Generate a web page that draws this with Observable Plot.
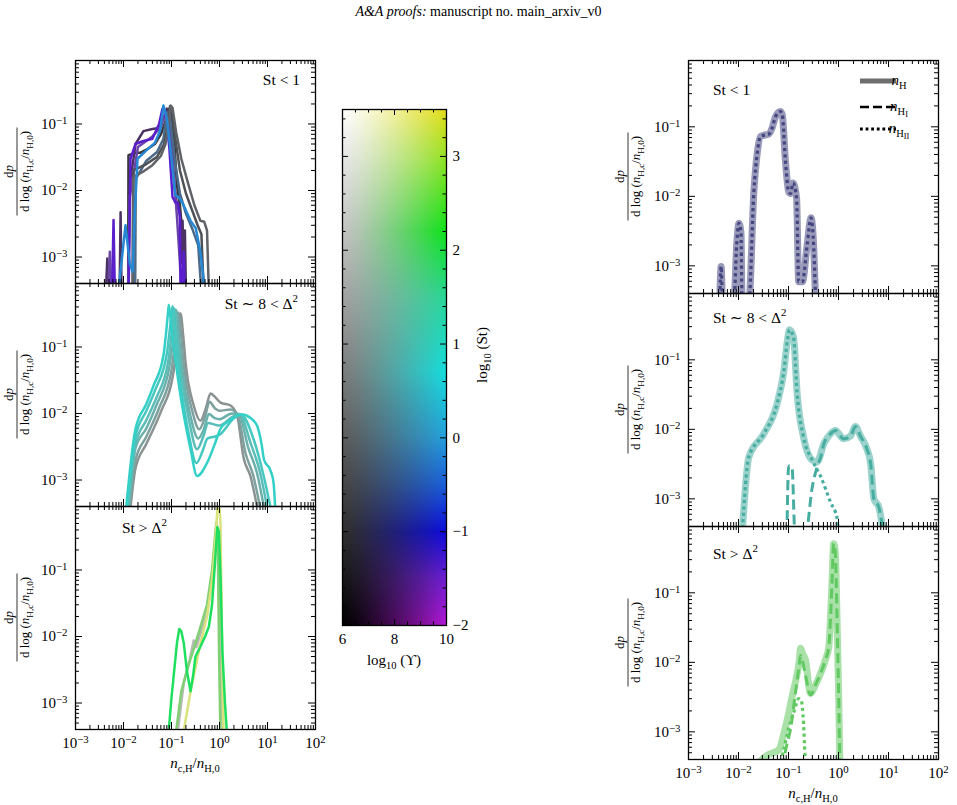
<!DOCTYPE html>
<html>
<head>
<meta charset="utf-8">
<script src="https://cdn.jsdelivr.net/npm/d3@7"></script>
<script src="https://cdn.jsdelivr.net/npm/@observablehq/plot@0.6"></script>
<style>
  body { margin: 0; background: #fff; }
  #fig { position: relative; width: 957px; height: 805px; overflow: hidden; }
  #fig > svg, #fig > div { position: absolute; }
</style>
</head>
<body>
<div id="fig"></div>
<script>
// ---------- Data: PDFs of the cloud hydrogen density, dp / dlog(n_H,c / n_H,0) ----------

// St < 1 runs (left column, top)
const stLowX = [
  [0.0125, 0.0127, 0.018, 0.0226, 0.03, 0.045, 0.06, 0.075, 0.09, 0.1, 0.115, 0.13, 0.15, 0.175, 0.195],
  [0.0043, 0.0046, 0.0049, 0.0083, 0.0087, 0.0091, 0.0125, 0.0135, 0.0178, 0.026, 0.04, 0.055, 0.068, 0.08, 0.09, 0.1, 0.115, 0.13, 0.15, 0.16, 0.17, 0.18, 0.19, 0.2],
  [0.0048, 0.0052, 0.0056, 0.0125, 0.0135, 0.02, 0.04, 0.06, 0.075, 0.09, 0.11, 0.13, 0.15, 0.16],
  [0.0058, 0.0062, 0.0066, 0.0128, 0.014, 0.0178, 0.025, 0.04, 0.055, 0.065, 0.075, 0.09, 0.105, 0.12, 0.135, 0.15, 0.155, 0.165, 0.18, 0.19],
  [0.0175, 0.018, 0.03, 0.05, 0.068, 0.08, 0.09, 0.1, 0.12, 0.15, 0.2, 0.28, 0.36, 0.42],
  [0.0155, 0.016, 0.03, 0.05, 0.07, 0.085, 0.093, 0.1, 0.12, 0.15, 0.2, 0.27, 0.35, 0.42, 0.47],
  [0.0155, 0.016, 0.025, 0.04, 0.06, 0.075, 0.088, 0.096, 0.105, 0.125, 0.16, 0.22, 0.3, 0.4, 0.48, 0.55, 0.6],
  [0.0078, 0.011, 0.0135, 0.0155, 0.017, 0.0196, 0.03, 0.045, 0.058, 0.068, 0.08, 0.1, 0.12, 0.14, 0.17, 0.25, 0.32, 0.4, 0.5]
];
const stLowY = [
  [3e-4, 0.034, 0.037, 0.037, 0.041, 0.05, 0.07, 0.11, 0.17, 0.15, 0.05, 0.012, 0.006, 0.0016, 3e-4],
  [3e-4, 0.00095, 3e-4, 3e-4, 0.0047, 3e-4, 3e-4, 0.012, 0.05, 0.078, 0.084, 0.087, 0.12, 0.17, 0.15, 0.06, 0.012, 0.006, 0.0045, 0.0008, 0.0035, 0.0006, 0.0025, 3e-4],
  [3e-4, 0.0012, 3e-4, 3e-4, 0.008, 0.045, 0.065, 0.09, 0.15, 0.12, 0.02, 0.004, 0.0008, 3e-4],
  [3e-4, 0.0036, 3e-4, 3e-4, 0.03, 0.05, 0.055, 0.06, 0.1, 0.17, 0.14, 0.045, 0.008, 0.0066, 0.0066, 0.004, 3e-4, 3e-4, 0.0012, 3e-4],
  [3e-4, 0.015, 0.028, 0.038, 0.06, 0.14, 0.16, 0.08, 0.025, 0.009, 0.0045, 0.0025, 0.0015, 3e-4],
  [3e-4, 0.02, 0.025, 0.032, 0.05, 0.1, 0.185, 0.17, 0.06, 0.02, 0.009, 0.005, 0.003, 0.0022, 3e-4],
  [3e-4, 0.016, 0.019, 0.024, 0.033, 0.05, 0.11, 0.19, 0.175, 0.075, 0.03, 0.013, 0.006, 0.0035, 0.0034, 0.0025, 3e-4],
  [3e-4, 0.003, 0.0008, 6e-4, 0.004, 0.03, 0.04, 0.052, 0.08, 0.19, 0.12, 0.03, 0.0085, 0.008, 0.0065, 0.0035, 0.0027, 0.0012, 3e-4]
];

// St ~ 8 < Delta^2 runs (left column, middle)
const stMidX = [
  [0.0135, 0.0178, 0.03, 0.059, 0.11, 0.145, 0.154, 0.175, 0.196, 0.29, 0.4, 0.52, 0.65, 0.85, 1.05, 1.7, 2.33, 3.2, 4.4, 6.5],
  [0.013, 0.0178, 0.03, 0.055, 0.1, 0.13, 0.14, 0.16, 0.18, 0.27, 0.38, 0.5, 0.62, 0.8, 1.0, 1.7, 2.4, 3.5, 5, 7.5],
  [0.0125, 0.0178, 0.03, 0.05, 0.09, 0.118, 0.125, 0.145, 0.165, 0.25, 0.36, 0.48, 0.6, 0.8, 1.0, 1.8, 2.5, 4, 6, 9],
  [0.012, 0.0178, 0.03, 0.048, 0.085, 0.108, 0.115, 0.135, 0.155, 0.24, 0.34, 0.46, 0.58, 0.8, 1.0, 1.9, 2.6, 4.5, 7, 10.5],
  [0.0115, 0.0178, 0.03, 0.045, 0.08, 0.098, 0.105, 0.125, 0.145, 0.23, 0.33, 0.45, 0.56, 0.8, 1.0, 2.0, 2.8, 5.2, 8, 12.5],
  [0.011, 0.0178, 0.03, 0.042, 0.068, 0.083, 0.088, 0.1, 0.154, 0.25, 0.34, 0.55, 0.8, 1.05, 1.6, 2.33, 2.95, 4.5, 6.1, 7.5, 8.5, 11.5, 13.4, 14.7]
];
const stMidY = [
  [3e-4, 0.0015, 0.0035, 0.0103, 0.042, 0.2, 0.32, 0.15, 0.059, 0.0132, 0.0078, 0.012, 0.02, 0.017, 0.0146, 0.0132, 0.0093, 0.0021, 0.00115, 3e-4],
  [3e-4, 0.002, 0.0045, 0.012, 0.045, 0.2, 0.33, 0.14, 0.055, 0.011, 0.0058, 0.009, 0.015, 0.012, 0.011, 0.0115, 0.0095, 0.0025, 0.0012, 3e-4],
  [3e-4, 0.003, 0.006, 0.014, 0.05, 0.22, 0.36, 0.13, 0.05, 0.009, 0.0042, 0.006, 0.0098, 0.0085, 0.0082, 0.01, 0.0098, 0.003, 0.0013, 3e-4],
  [3e-4, 0.0035, 0.008, 0.017, 0.06, 0.25, 0.38, 0.12, 0.045, 0.007, 0.0029, 0.0045, 0.0072, 0.0068, 0.0066, 0.009, 0.0098, 0.0035, 0.0013, 3e-4],
  [3e-4, 0.0045, 0.011, 0.022, 0.08, 0.27, 0.41, 0.11, 0.04, 0.0048, 0.0018, 0.0028, 0.0042, 0.0045, 0.0048, 0.0085, 0.0097, 0.004, 0.0013, 3e-4],
  [3e-4, 0.0059, 0.014, 0.026, 0.075, 0.28, 0.43, 0.19, 0.0186, 0.0029, 0.00115, 0.0018, 0.0035, 0.0059, 0.0078, 0.0093, 0.0097, 0.0085, 0.0065, 0.0035, 0.002, 0.0014, 0.0009, 3e-4]
];

// St > Delta^2 runs (left column, bottom)
const stHighX = [
  [0.13, 0.18, 0.24, 0.29, 0.33, 0.4, 0.55, 0.7, 0.85, 0.9, 0.95, 1.0, 1.1, 1.2],
  [0.12, 0.16, 0.22, 0.3, 0.4, 0.55, 0.7, 0.8, 0.86, 0.92, 0.98, 1.05],
  [0.17, 0.25, 0.4, 0.55, 0.7, 0.85, 0.95, 1.05, 1.15, 1.22],
  [0.085, 0.1, 0.13, 0.145, 0.16, 0.18, 0.21, 0.249, 0.28, 0.316, 0.4, 0.5, 0.6, 0.7, 0.8, 0.9, 0.97, 1.05, 1.15, 1.3, 1.45]
];
const stHighY = [
  [3e-4, 0.002, 0.0045, 0.0087, 0.0069, 0.011, 0.022, 0.07, 0.35, 0.45, 0.3, 0.02, 0.001, 3e-4],
  [3e-4, 0.0015, 0.0035, 0.007, 0.0138, 0.03, 0.1, 0.3, 0.52, 0.3, 0.005, 3e-4],
  [3e-4, 0.0015, 0.0078, 0.02, 0.07, 0.4, 1.5, 0.5, 0.003, 3e-4],
  [3e-4, 0.0012, 0.008, 0.013, 0.012, 0.008, 0.003, 0.0015, 0.0025, 0.005, 0.007, 0.01, 0.014, 0.03, 0.12, 0.44, 0.38, 0.08, 0.006, 0.001, 3e-4]
];

// Single runs split into total, neutral and ionised hydrogen (right column)
const lowHX   = [0.0042, 0.0045, 0.0048, 0.0081, 0.0092, 0.0102, 0.0112, 0.0118, 0.0161, 0.0203, 0.0239, 0.0275, 0.033, 0.0404, 0.047, 0.055, 0.069, 0.075, 0.087, 0.101, 0.11, 0.123, 0.145, 0.16, 0.19, 0.236, 0.283, 0.32, 0.35];
const lowHY   = [3e-4, 0.00098, 3e-4, 3e-4, 0.002, 0.0041, 0.003, 3e-4, 3e-4, 0.0117, 0.044, 0.0725, 0.076, 0.0785, 0.096, 0.14, 0.166, 0.15, 0.0317, 0.0117, 0.011, 0.0155, 0.0094, 0.00059, 0.00059, 0.002, 0.0049, 0.0018, 3e-4];

const midHX   = [0.0118, 0.0161, 0.032, 0.059, 0.081, 0.095, 0.105, 0.126, 0.149, 0.2, 0.298, 0.374, 0.51, 0.69, 0.87, 1.27, 1.74, 2.19, 2.75, 3.7, 4.4, 5.1, 6.4, 8.0];
const midHY   = [3e-4, 0.004, 0.0086, 0.0232, 0.07, 0.19, 0.27, 0.21, 0.0324, 0.0077, 0.0036, 0.0034, 0.0062, 0.0086, 0.0096, 0.0073, 0.008, 0.011, 0.008, 0.0052, 0.0032, 0.001, 0.00076, 3e-4];
const midHIX  = [0.093, 0.1, 0.105, 0.118, 0.135, 0.2, 0.219, 0.298, 0.374, 0.44, 0.51, 0.69, 0.87, 1.27, 1.74, 2.19, 2.75, 3.7, 4.4, 5.1, 6.4, 8.0];
const midHIY  = [3e-4, 0.0028, 0.003, 0.0028, 3e-4, 3e-4, 3e-4, 0.00146, 0.0029, 0.004, 0.0062, 0.0086, 0.0096, 0.0073, 0.008, 0.011, 0.008, 0.0052, 0.0032, 0.001, 0.00076, 3e-4];
const midHIIX = [0.0118, 0.0161, 0.032, 0.059, 0.081, 0.095, 0.105, 0.126, 0.149, 0.2, 0.298, 0.44, 0.69, 0.94, 1.0];
const midHIIY = [3e-4, 0.004, 0.0086, 0.0232, 0.07, 0.19, 0.27, 0.21, 0.0324, 0.0077, 0.0036, 0.0021, 0.0009, 0.00052, 3e-4];

const highHX   = [0.02, 0.0375, 0.064, 0.081, 0.1, 0.118, 0.14, 0.165, 0.174, 0.19, 0.219, 0.275, 0.35, 0.437, 0.55, 0.64, 0.745, 0.8, 0.86, 0.93, 1.0, 1.07];
const highHY   = [3e-4, 4.6e-4, 5.5e-4, 0.00095, 0.0018, 0.0032, 0.0055, 0.0108, 0.0159, 0.0135, 0.0108, 0.0036, 0.0048, 0.0069, 0.011, 0.0167, 0.152, 0.51, 0.4, 0.05, 0.0044, 3e-4];
const highHIX  = [0.075, 0.09, 0.11, 0.14, 0.165, 0.174, 0.19, 0.219, 0.275, 0.35, 0.437, 0.55, 0.64, 0.745, 0.8, 0.86, 0.93, 1.0, 1.07];
const highHIY  = [3e-4, 6e-4, 0.0011, 0.004, 0.0095, 0.0125, 0.0105, 0.0065, 0.0034, 0.0048, 0.0069, 0.011, 0.0167, 0.152, 0.51, 0.4, 0.05, 0.0044, 3e-4];
const highHIIX = [0.065, 0.08, 0.1, 0.13, 0.16, 0.18, 0.2, 0.21, 0.22];
const highHIIY = [3e-4, 5.5e-4, 0.0011, 0.002, 0.003, 0.0028, 0.0013, 6e-4, 3e-4];

// Axis ticks
const xMajor = [1e-3, 1e-2, 1e-1, 1, 10, 100];
const yMajor = [1e-3, 1e-2, 1e-1];
const cbarStTicks = [-2, -1, 0, 1, 2, 3];
const cbarUpsTicks = [6, 8, 10];

// ---------- Styles ----------
const FONT = '"Liberation Serif", "DejaVu Serif", serif';
const Y_DOMAIN = [4e-4, 0.9];
const stLowColors  = ["#37373d", "#4b3262", "#6a44a8", "#5a1ecc", "#4b6988", "#4d5156", "#5f6368", "#2688d4"];
const stMidColors  = ["#8b9292", "#7ea1a0", "#6cb0ac", "#5abdb8", "#46c8c1", "#33d0c8"];
const stHighColors = ["#b7bab6", "#80cf72", "#d9e27c", "#1fe05e"];
const runColors    = ["#45457f", "#48ada1", "#62c962"];

const xMinor = [];
for (let e = -3; e <= 1; e++) for (let k = 2; k <= 9; k++) xMinor.push(k * 10 ** e);
const yMinor = [];
for (let e = -4; e <= -1; e++) for (let k = 2; k <= 9; k++) {
  const v = k * 10 ** e;
  if (v >= Y_DOMAIN[0] && v <= Y_DOMAIN[1]) yMinor.push(v);
}

const fig = document.getElementById("fig");

// Header line
const header = document.createElement("div");
header.style.cssText = `left:0;top:4px;width:957px;text-align:center;font-size:14px;font-family:${FONT};color:#000;`;
header.innerHTML = "<i>A&amp;A proofs:</i> manuscript no. main_arxiv_v0";
fig.appendChild(header);

// Text with italic parts, sub- and superscripts
function rich(sel, segs, size) {
  let shift = 0;
  for (const s of segs) {
    const level = s.sub ? size * 0.28 : s.sub2 ? size * 0.42 : s.sup ? -size * 0.42 : 0;
    const ts = sel.append("tspan").text(s.t);
    if (level !== shift) { ts.attr("dy", level - shift); shift = level; }
    if (s.it) ts.attr("font-style", "italic");
    if (s.sub || s.sup) ts.attr("font-size", size * 0.7);
    if (s.sub2) ts.attr("font-size", size * 0.55);
  }
}

function superscriptTicks(svg) {
  d3.select(svg).selectAll("text").each(function () {
    const m = /^10\^(-?\d+)$/.exec(this.textContent);
    if (!m) return;
    const t = d3.select(this);
    t.text(null);
    t.append("tspan").text("10");
    t.append("tspan").attr("dy", "-0.45em").attr("font-size", "0.72em").text(m[1].replace("-", "\u2212"));
  });
}

function yFraction(svg, cx, cy) {
  const g = d3.select(svg).append("g")
    .attr("transform", `translate(${cx},${cy}) rotate(-90)`)
    .attr("font-family", FONT).attr("text-anchor", "middle").attr("fill", "#000");
  rich(g.append("text").attr("y", -4).attr("font-size", 13), [{t: "d"}, {t: "p", it: true}], 13);
  g.append("line").attr("x1", -44).attr("x2", 44).attr("stroke", "#000").attr("stroke-width", 0.8);
  rich(g.append("text").attr("y", 12).attr("font-size", 13),
    [{t: "d log ("}, {t: "n", it: true}, {t: "H,c", sub: true}, {t: "/"}, {t: "n", it: true}, {t: "H,0", sub: true}, {t: ")"}], 13);
}

const pow10 = d => "10^" + Math.round(Math.log10(d));

function curveMarks(xs, ys, colors, width, curve = "linear") {
  return xs.map((xv, i) => Plot.line(xv.map((x, j) => ({x, y: ys[i][j]})),
    {x: "x", y: "y", stroke: colors[i], strokeWidth: width, clip: true, curve}));
}
function series(xs, ys) { return xs.map((x, j) => ({x, y: ys[j]})); }

function tickMarks(fw, fh, big, small) {
  const s = {stroke: "#000", strokeWidth: 1};
  return [
    Plot.tickX(xMajor, {x: d => d, insetTop: fh - big, ...s}),
    Plot.tickX(xMajor, {x: d => d, insetBottom: fh - big, ...s}),
    Plot.tickX(xMinor, {x: d => d, insetTop: fh - small, ...s}),
    Plot.tickX(xMinor, {x: d => d, insetBottom: fh - small, ...s}),
    Plot.tickY(yMajor, {y: d => d, insetRight: fw - big, ...s}),
    Plot.tickY(yMajor, {y: d => d, insetLeft: fw - big, ...s}),
    Plot.tickY(yMinor, {y: d => d, insetRight: fw - small, ...s}),
    Plot.tickY(yMinor, {y: d => d, insetLeft: fw - small, ...s})
  ];
}

function logPanel({fx, fy, fw, fh, bottomAxis, curves, title, titleAt, fracX}) {
  const mL = 75, mR = 8, mT = 8, mB = bottomAxis ? 55 : 8;
  const marks = [
    ...curves,
    Plot.frame({stroke: "#000", strokeWidth: 1.3}),
    ...tickMarks(fw, fh, 7, 4),
    Plot.axisY({ticks: yMajor, tickSize: 0, tickPadding: 8, tickFormat: pow10, label: null})
  ];
  if (bottomAxis) marks.push(Plot.axisX({ticks: xMajor, tickSize: 0, tickPadding: 8, tickFormat: pow10, label: null}));
  const xOpts = {type: "log", domain: [1e-3, 1e2]};
  if (!bottomAxis) xOpts.axis = null;
  const svg = Plot.plot({
    width: fw + mL + mR, height: fh + mT + mB,
    marginLeft: mL, marginRight: mR, marginTop: mT, marginBottom: mB,
    x: xOpts,
    y: {type: "log", domain: Y_DOMAIN},
    style: {fontFamily: FONT, fontSize: "15px", color: "#000", background: "transparent", overflow: "visible"},
    marks
  });
  svg.style.left = (fx - mL) + "px";
  svg.style.top = (fy - mT) + "px";
  fig.appendChild(svg);
  superscriptTicks(svg);
  yFraction(svg, fracX - (fx - mL), mT + fh / 2);
  // panel label
  const t = d3.select(svg).append("text").attr("font-family", FONT).attr("font-size", 15.5).attr("fill", "#000")
    .attr("y", mT + titleAt.baseline)
    .attr("x", titleAt.right != null ? mL + fw - titleAt.right : mL + titleAt.left)
    .attr("text-anchor", titleAt.right != null ? "end" : "start");
  rich(t, title, 15.5);
  if (bottomAxis) {
    const xl = d3.select(svg).append("text").attr("font-family", FONT).attr("font-size", 15).attr("fill", "#000")
      .attr("text-anchor", "middle").attr("x", mL + fw / 2).attr("y", mT + fh + 39);
    rich(xl, [{t: "n", it: true}, {t: "c,H", sub: true}, {t: "/"}, {t: "n", it: true}, {t: "H,0", sub: true}], 15);
  }
  return {svg, mL, mT};
}

const tLow  = [{t: "St < 1"}];
const tMid  = [{t: "St \u223C 8 < \u0394"}, {t: "2", sup: true}];
const tHigh = [{t: "St > \u0394"}, {t: "2", sup: true}];

// ---------- Left column ----------
const L = {fx: 75, fw: 240, fh: 223, fracX: 17};
logPanel({...L, fy: 60, curves: curveMarks(stLowX, stLowY, stLowColors, 2.5), title: tLow, titleAt: {right: 15, baseline: 25}});
logPanel({...L, fy: 283, curves: curveMarks(stMidX, stMidY, stMidColors, 2.5, "monotone-x"), title: tMid, titleAt: {right: 17, baseline: 26}});
logPanel({...L, fy: 506, bottomAxis: true, curves: curveMarks(stHighX, stHighY, stHighColors, 2.5), title: tHigh, titleAt: {left: 47, baseline: 27}});

// ---------- Right column ----------
function runMarks(color, total, neutral, ionised) {
  const c = "monotone-x";
  const m = [Plot.line(total, {x: "x", y: "y", stroke: color, strokeOpacity: 0.55, strokeWidth: 7, clip: true, curve: c})];
  if (neutral) m.push(Plot.line(neutral, {x: "x", y: "y", stroke: color, strokeWidth: 3, strokeDasharray: "10,5", strokeLinecap: "butt", clip: true, curve: c}));
  if (ionised) m.push(Plot.line(ionised, {x: "x", y: "y", stroke: color, strokeWidth: 3.2, strokeDasharray: "3.2,3.2", strokeLinecap: "butt", clip: true, curve: c}));
  return m;
}
const R = {fx: 688, fw: 250, fh: 233, fracX: 628};
const r1 = logPanel({...R, fy: 60, curves: runMarks(runColors[0], series(lowHX, lowHY), null, series(lowHX, lowHY)), title: tLow, titleAt: {left: 25, baseline: 35}});
logPanel({...R, fy: 293, curves: runMarks(runColors[1], series(midHX, midHY), series(midHIX, midHIY), series(midHIIX, midHIIY)), title: tMid, titleAt: {left: 25, baseline: 30}});
logPanel({...R, fy: 526, bottomAxis: true, curves: runMarks(runColors[2], series(highHX, highHY), series(highHIX, highHIY), series(highHIIX, highHIIY)), title: tHigh, titleAt: {left: 25, baseline: 33}});

// Legend for the line styles (top right panel)
{
  const g = d3.select(r1.svg).append("g").attr("font-family", FONT).attr("fill", "#000");
  const ox = r1.mL + 172, oy = r1.mT;
  const rows = [
    {dy: 21, style: {stroke: "#6e6e6e", "stroke-width": 5}, label: [{t: "n", it: true}, {t: "H", sub: true}]},
    {dy: 47, style: {stroke: "#000", "stroke-width": 2.5, "stroke-dasharray": "9,4"}, label: [{t: "n", it: true}, {t: "H", sub: true}, {t: "I", sub2: true}]},
    {dy: 69, style: {stroke: "#000", "stroke-width": 2.8, "stroke-dasharray": "2.8,2.8"}, label: [{t: "n", it: true}, {t: "H", sub: true}, {t: "II", sub2: true}]}
  ];
  for (const r of rows) {
    const ln = g.append("line").attr("x1", ox).attr("x2", ox + 36).attr("y1", oy + r.dy).attr("y2", oy + r.dy);
    for (const [k, v] of Object.entries(r.style)) ln.attr(k, v);
    rich(g.append("text").attr("font-size", 15).attr("x", ox + 39).attr("y", oy + r.dy + 4), r.label, 15);
  }
}

// ---------- Colour bar: log10(Upsilon) vs log10(St) ----------
const hueStops = [
  [-2, [182, 24, 214]], [-1.5, [112, 30, 212]], [-1, [12, 12, 222]], [-0.5, [25, 95, 220]],
  [0, [35, 160, 222]], [0.7, [20, 222, 222]], [1.5, [40, 215, 150]], [2.2, [12, 226, 24]],
  [3, [150, 226, 35]], [3.5, [228, 220, 20]]
];
function hueAt(v) {
  if (v <= hueStops[0][0]) return hueStops[0][1];
  for (let i = 1; i < hueStops.length; i++) {
    const [v1, c1] = hueStops[i], [v0, c0] = hueStops[i - 1];
    if (v <= v1) { const t = (v - v0) / (v1 - v0); return c0.map((c, k) => c + (c1[k] - c) * t); }
  }
  return hueStops[hueStops.length - 1][1];
}
function cmap(u, v) {
  const s = Math.pow(Math.max(0, Math.min(1, (u - 6) / 4)), 1.25);
  const g = 255 * Math.max(0, Math.min(1, (v + 2) / 5.5));
  const h = hueAt(v);
  const c = h.map(x => Math.round(g * (1 - s) + x * s));
  return `rgb(${c[0]},${c[1]},${c[2]})`;
}
{
  const fx = 342, fy = 109, fw = 104, fh = 516;
  const mL = 10, mR = 55, mT = 8, mB = 55;
  const stMinor = [], upsMinor = [];
  for (let v = -2; v <= 3.45; v += 0.2) { const r = Math.round(v * 10) / 10; if (Math.abs(r - Math.round(r)) > 1e-6) stMinor.push(r); }
  for (let u = 6; u <= 10; u += 0.5) if (u % 2 !== 0) upsMinor.push(u);
  const s = {stroke: "#000", strokeWidth: 1};
  const field = typeof Plot.raster === "function"
    ? Plot.raster({x1: 6, x2: 10, y1: -2, y2: 3.5, fill: cmap})
    : Plot.rect(d3.cross(d3.range(6, 10, 0.1), d3.range(-2, 3.5, 0.05)).map(([u, v]) => ({u, v})),
        {x1: "u", x2: d => d.u + 0.1, y1: "v", y2: d => d.v + 0.05, fill: d => cmap(d.u + 0.05, d.v + 0.025), shapeRendering: "crispEdges"});
  const svg = Plot.plot({
    width: fw + mL + mR, height: fh + mT + mB,
    marginLeft: mL, marginRight: mR, marginTop: mT, marginBottom: mB,
    x: {domain: [6, 10]},
    y: {domain: [-2, 3.5]},
    color: {type: "identity"},
    style: {fontFamily: FONT, fontSize: "15px", color: "#000", background: "transparent", overflow: "visible"},
    marks: [
      field,
      Plot.frame({stroke: "#000", strokeWidth: 1.3}),
      Plot.tickY(cbarStTicks, {y: d => d, insetLeft: fw - 6, ...s}),
      Plot.tickY(cbarStTicks, {y: d => d, insetRight: fw - 6, ...s}),
      Plot.tickY(stMinor, {y: d => d, insetLeft: fw - 3.5, ...s}),
      Plot.tickY(stMinor, {y: d => d, insetRight: fw - 3.5, ...s}),
      Plot.tickX(cbarUpsTicks, {x: d => d, insetTop: fh - 6, ...s}),
      Plot.tickX(cbarUpsTicks, {x: d => d, insetBottom: fh - 6, ...s}),
      Plot.tickX(upsMinor, {x: d => d, insetTop: fh - 3.5, ...s}),
      Plot.tickX(upsMinor, {x: d => d, insetBottom: fh - 3.5, ...s}),
      Plot.axisY({anchor: "right", ticks: cbarStTicks, tickSize: 0, tickPadding: 6, label: null,
        tickFormat: d => (d < 0 ? "\u2212" + (-d) : String(d))}),
      Plot.axisX({ticks: cbarUpsTicks, tickSize: 0, tickPadding: 8, label: null, tickFormat: d => String(d)})
    ]
  });
  svg.style.left = (fx - mL) + "px";
  svg.style.top = (fy - mT) + "px";
  fig.appendChild(svg);
  const sel = d3.select(svg);
  rich(sel.append("text").attr("font-family", FONT).attr("font-size", 15).attr("fill", "#000")
    .attr("text-anchor", "middle").attr("x", mL + fw / 2).attr("y", mT + fh + 40),
    [{t: "log"}, {t: "10", sub: true}, {t: " (\u03D2)"}], 15);
  rich(sel.append("text").attr("font-family", FONT).attr("font-size", 15).attr("fill", "#000")
    .attr("text-anchor", "middle").attr("transform", `translate(${mL + fw + 41},${mT + 246}) rotate(-90)`),
    [{t: "log"}, {t: "10", sub: true}, {t: " (St)"}], 15);
}
</script>
</body>
</html>
